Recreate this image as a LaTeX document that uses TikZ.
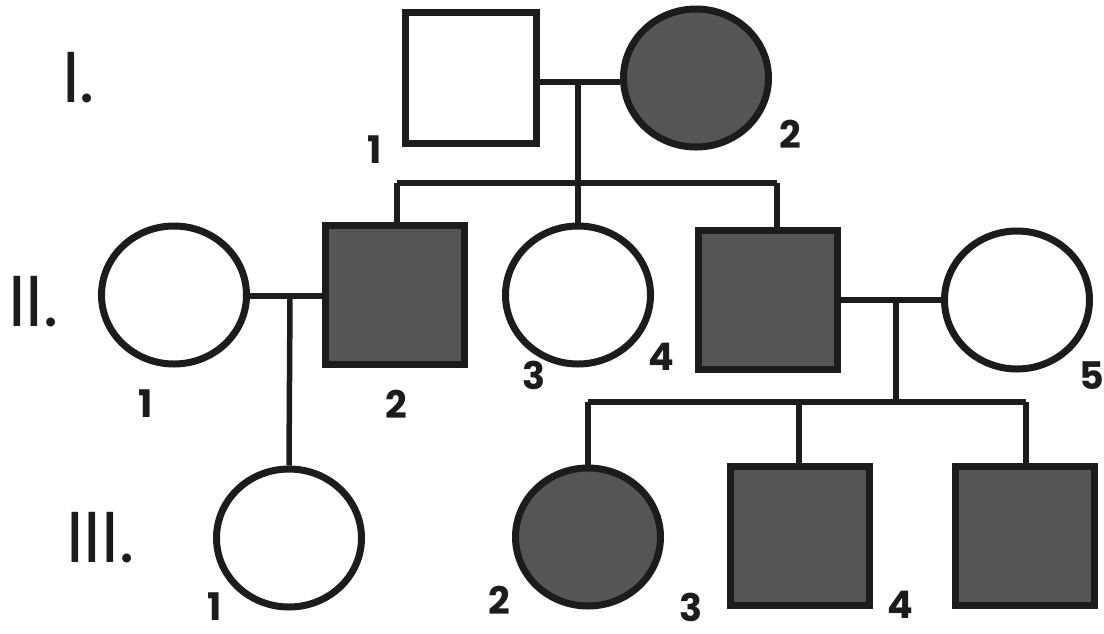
\documentclass[tikz,border=0pt]{standalone}
\usepackage{fontspec}
\setmainfont{Poppins}
\usetikzlibrary{shapes.geometric}
\definecolor{aff}{HTML}{555555}
\definecolor{ink}{HTML}{1C1C1C}
\tikzset{
  male/.style={rectangle, draw=ink, line width=7pt, minimum width=#1, minimum height=#1, inner sep=0pt},
  female/.style={ellipse, draw=ink, line width=7pt, minimum width=145pt, minimum height=138pt, inner sep=0pt},
  affected/.style={fill=aff},
  link/.style={draw=ink, line width=5.5pt},
  num/.style={font=\fontsize{38}{38}\selectfont\bfseries, text=ink, inner sep=0pt},
  gen/.style={font=\fontsize{72}{72}\selectfont, text=ink, inner sep=0pt, anchor=west},
}
\begin{document}
\begin{tikzpicture}[x=1pt,y=-1pt]
\useasboundingbox (0,0) rectangle (1104,633);
% generation labels
\node[gen] (gI) at (62,78) {I.};
\node[gen] (gII) at (8,302) {II.};
\node[gen] (gIII) at (66,538) {III.};
% generation I
\node[male=131pt] (I1) at (471,78) {};
\node[female, affected] (I2) at (696,78) {};
% generation II
\node[female] (II1) at (174,295) {};
\node[male=139pt, affected] (II2) at (395,295) {};
\node[female] (II3) at (578,295) {};
\node[male=139pt, affected] (II4) at (768,300) {};
\node[female] (II5) at (1017,300) {};
% generation III
\node[female] (III1) at (289,538) {};
\node[female, affected] (III2) at (588,537) {};
\node[male=139pt, affected] (III3) at (800,536) {};
\node[male=139pt, affected] (III4) at (1025,536) {};
% numbers
\node[num] (nI1) at (375,150) {1};
\node[num] (nI2) at (790,134) {2};
\node[num] (nII1) at (146,404) {1};
\node[num] (nII2) at (396,404) {2};
\node[num] (nII3) at (534,375) {3};
\node[num] (nII4) at (661,357) {4};
\node[num] (nII5) at (1092,376) {5};
\node[num] (nIII1) at (215,607) {1};
\node[num] (nIII2) at (499,600) {2};
\node[num] (nIII3) at (691,607) {3};
\node[num] (nIII4) at (900,605) {4};
% connectors I
\coordinate (mI) at (578,82);
\coordinate (sIL) at (397,183);
\coordinate (sIM) at (578,183);
\coordinate (sIR) at (777,183);
\draw[link] (I1.east |- mI) -- (I2.west |- mI);
\draw[link] (mI) -- (sIM);
\draw[link] (sIL) -- (sIR);
\draw[link] (sIL) -- (sIL |- II2.north);
\draw[link] (sIM) -- (II3.north);
\draw[link] (sIR) -- (sIR |- II4.north);
% connectors II-1 x II-2
\coordinate (mA) at (290,296);
\draw[link] (II1.east |- mA) -- (II2.west |- mA);
\draw[link] (mA) -- (III1.north);
% connectors II-4 x II-5
\coordinate (mB) at (896,300);
\coordinate (sBM) at (896,402);
\coordinate (sBL) at (588,402);
\coordinate (sBC) at (799,402);
\coordinate (sBR) at (1026,402);
\draw[link] (II4.east |- mB) -- (II5.west |- mB);
\draw[link] (mB) -- (sBM);
\draw[link] (sBL) -- (sBR);
\draw[link] (sBL) -- (III2.north);
\draw[link] (sBC) -- (sBC |- III3.north);
\draw[link] (sBR) -- (sBR |- III4.north);
\end{tikzpicture}
\end{document}
